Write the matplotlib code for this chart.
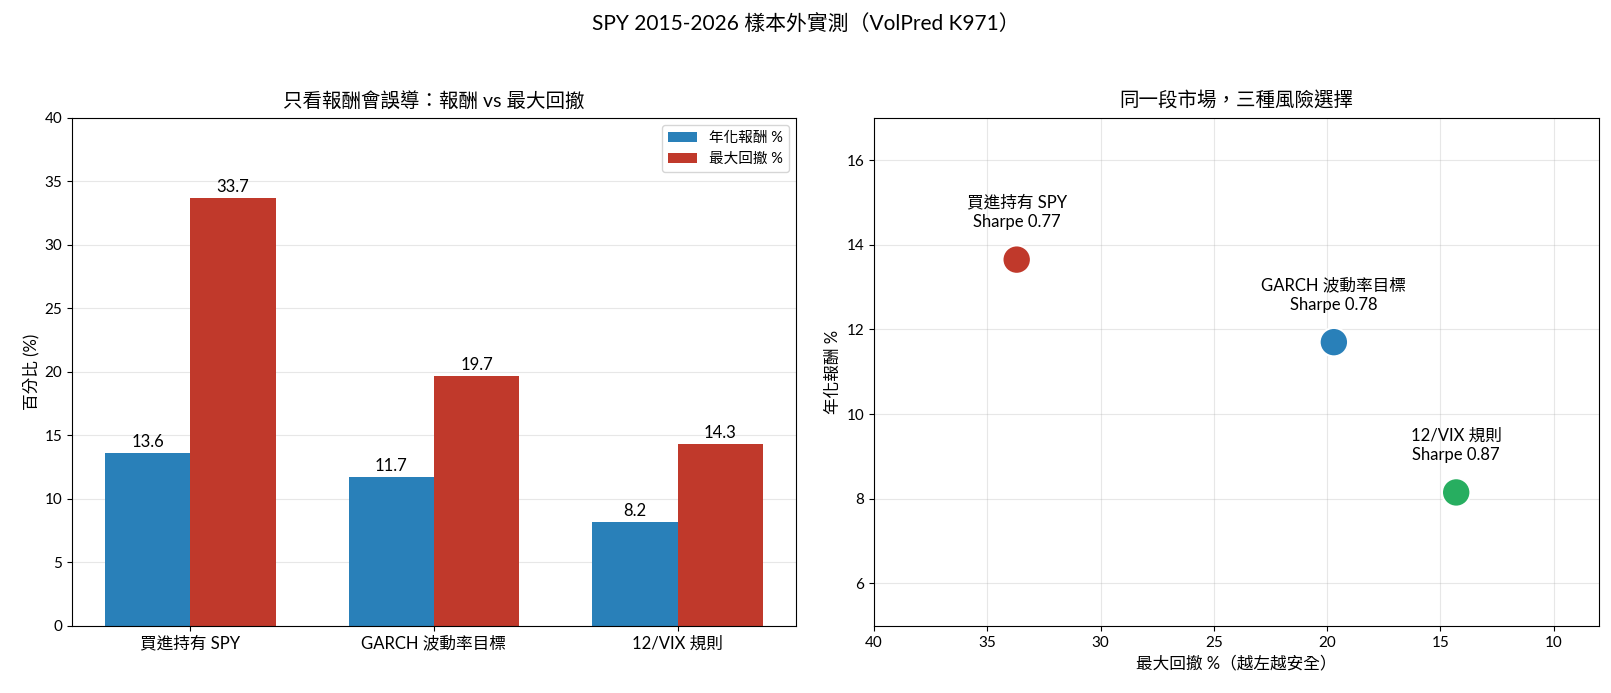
import numpy as np
import matplotlib
matplotlib.use("Agg")
import matplotlib.pyplot as plt

plt.rcParams["font.family"] = ["Lato", "Noto Sans CJK TC", "DejaVu Sans"]

strategies = ["買進持有 SPY", "GARCH 波動率目標", "12/VIX 規則"]
ann_return = [13.6, 11.7, 8.2]
max_drawdown = [33.7, 19.7, 14.3]
scatter_ret = [13.65, 11.7, 8.15]
sharpe = [0.77, 0.78, 0.87]
point_colors = ["#c0392b", "#2980b9", "#27ae60"]

blue = "#2980b9"
red = "#c0392b"

fig = plt.figure(figsize=(16.11, 6.93), dpi=100)
ax1 = fig.add_axes([0.0447, 0.097, 0.4493, 0.733])
ax2 = fig.add_axes([0.5425, 0.097, 0.45, 0.733])

fig.suptitle("SPY 2015-2026 樣本外實測（VolPred K971）", fontsize=15, y=0.98)

# left: bars
x = np.arange(len(strategies))
w = 0.35
b1 = ax1.bar(x - w / 2, ann_return, w, color=blue, label="年化報酬 %")
b2 = ax1.bar(x + w / 2, max_drawdown, w, color=red, label="最大回撤 %")
for bars in (b1, b2):
    for rect in bars:
        h = rect.get_height()
        ax1.annotate(f"{h:.1f}", (rect.get_x() + rect.get_width() / 2, h),
                     xytext=(0, 2), textcoords="offset points",
                     ha="center", va="bottom", fontsize=12)
ax1.set_xticks(x)
ax1.set_xticklabels(strategies, fontsize=12)
ax1.set_ylim(0, 40)
ax1.tick_params(axis="y", labelsize=11)
ax1.set_ylabel("百分比 (%)", fontsize=12)
ax1.set_title("只看報酬會誤導：報酬 vs 最大回撤", fontsize=14, pad=8)
ax1.grid(axis="y", alpha=0.3)
ax1.set_axisbelow(True)
ax1.legend(loc="upper right", fontsize=10.5)

# right: scatter
ax2.scatter(max_drawdown, scatter_ret, s=420, c=point_colors,
            edgecolors="white", linewidths=1.5, zorder=3)
for name, dd, r, sh in zip(strategies, max_drawdown, scatter_ret, sharpe):
    ax2.annotate(f"{name}\nSharpe {sh:.2f}", (dd, r),
                 xytext=(0, 21), textcoords="offset points",
                 ha="center", va="bottom", fontsize=12, linespacing=1.3)
ax2.set_xlim(40, 8)
ax2.set_ylim(5, 17)
ax2.set_yticks([6, 8, 10, 12, 14, 16])
ax2.tick_params(labelsize=11)
ax2.set_xlabel("最大回撤 %（越左越安全）", fontsize=12)
ax2.set_ylabel("年化報酬 %", fontsize=12)
ax2.set_title("同一段市場，三種風險選擇", fontsize=14, pad=8)
ax2.grid(alpha=0.3)
ax2.set_axisbelow(True)

fig.savefig("out.png", dpi=100)
